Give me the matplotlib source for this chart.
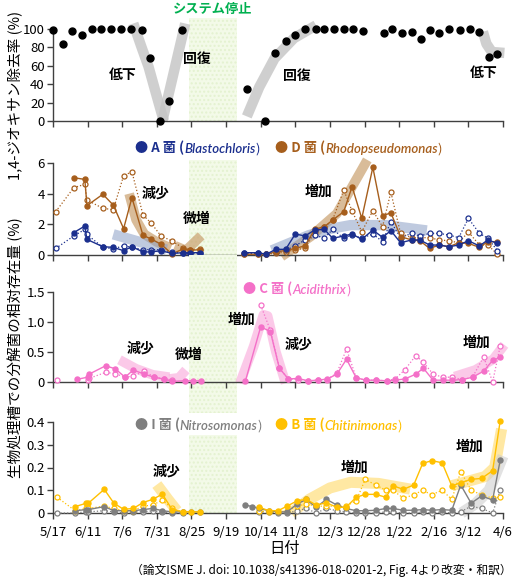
import numpy as np
import matplotlib
matplotlib.use("Agg")
import matplotlib.pyplot as plt

plt.rcParams['font.family'] = ['Noto Sans CJK JP', 'DejaVu Sans']

nan = np.nan

# x軸: 5/17からの経過日数
tick_days = [0, 25, 50, 75, 100, 125, 150, 175, 200, 225, 250, 275, 300, 325]
tick_labels = ['5/17', '6/11', '7/6', '7/31', '8/25', '9/19', '10/14', '11/8',
               '12/3', '12/28', '1/22', '2/16', '3/12', '4/6']
stop_start, stop_end = 98, 133

# パネル1: 1,4-ジオキサン除去率
p1_days = [0, 7, 14, 21, 28, 35, 42, 49, 56, 64, 70, 77, 84, 93,
           140, 153, 160, 168, 175, 182, 190, 196, 203, 210, 217, 224,
           239, 245, 252, 259, 266, 272, 279, 286, 294, 301, 308, 315, 321]
p1_removal = [99, 84, 98, 94, 100, 100, 100, 100, 100, 99, 69, 0, 22, 99,
              35, 0, 74, 87, 94, 100, 100, 100, 100, 100, 100, 98,
              96, 100, 96, 97, 89, 99, 96, 100, 99, 100, 97, 70, 73]

# パネル2: A菌, D菌
p2_days = [2, 15, 23, 24.5, 36, 43.5, 51, 57, 65, 71, 78, 86, 94, 99, 106,
           138, 148, 154, 161, 168, 175, 182, 189, 196, 202, 210, 216, 223,
           231, 238, 244, 251, 259, 265, 272, 279, 286, 293, 300, 308, 314, 321]
a_filled = [nan, 1.46, 1.89, 1.02, 0.54, 0.5, 0.28, 0.54, 0.2, 0.2, 0.28, 0.1, 0.15, 0.15, 0.15,
            0.15, 0.15, 0.05, 0.37, 0.37, 1.37, 1.24, 1.63, 1.67, 1.09, 1.24, 1.37, 1.02,
            1.63, 1.15, 1.59, 0.8, 0.98, 0.98, 0.65, 0.65, 0.54, 0.65, 0.93, 0.59, 0.98, 0.76]
a_open = [0.43, 1.24, 1.67, 1.34, 0.5, 0.4, 0.6, 0.5, 0.35, 0.35, 0.35, 0.2, 0.1, 0.1, 0.1,
          0.1, 0.1, 0.05, 0.2, 0.3, 0.6, 0.98, 1.3, 1.1, 1.67, 1.1, 1.3, 1.1,
          1.37, 0.87, 2.17, 1.13, 1.41, 1.24, 1.41, 1.41, 1.3, 1.13, 2.39, 1.41, 1.1, 0.28]
d_filled = [nan, 5.04, 4.93, 3.22, 3.96, 3.26, 1.72, 3.74, 1.28, 1.04, 0.7, 0.07, 0.4, 0.3, 0.35,
            0.05, 0.05, 0.05, 0.2, 0.3, 0.43, 0.6, 1.67, 1.85, 2.28, 2.83, 4.46, 2.39,
            5.72, 2.54, 2.76, 1.2, 0.98, 0.93, 0.43, 0.65, 0.54, 0.8, 0.76, 0.5, 0.87, 0.87]
d_open = [2.83, 4.39, 4.61, 3.59, 3.04, 2.96, 5.17, 5.43, 2.61, 2.07, 1.24, 0.91, 0.45, 0.35, 0.4,
          0.05, 0.05, 0.05, 0.1, 0.2, 0.35, 0.43, 1.5, 1.8, 2.3, 4.24, 2.87, 1.52,
          2.89, 1.85, 4.1, 1.41, 1.13, 1.13, 1.13, 0.98, 0.93, 0.8, 1.5, 0.65, 0.65, 0.05]

# パネル3: C菌
p3_days = [3, 17.5, 25, 26, 38, 45, 52, 58, 66, 73, 80, 86, 95, 101, 107,
           139, 150, 157, 163.5, 170, 177, 184, 191.5, 198, 205, 212, 219, 226,
           233.5, 241, 247, 254, 262, 267.5, 274.5, 281.5, 288.5, 295.5, 303, 311, 317.5, 323]
c_filled = [nan, 0.045, 0.08, 0.13, 0.27, 0.22, 0.08, 0.2, 0.13, 0.08, 0.05, 0.01, 0.02, 0.02, 0.02,
            0.02, 0.92, 0.84, 0.23, 0.05, 0.06, 0.02, 0.03, 0.05, 0.13, 0.38, 0.07, 0.03,
            0.03, 0.02, 0.03, 0.05, 0.13, 0.23, 0.03, 0.03, 0.03, 0.04, 0.08, 0.18, 0.36, 0.41]
c_open = [0.03, nan, 0.04, 0.06, 0.16, 0.14, 0.08, 0.1, 0.18, 0.08, 0.05, 0.04, nan, nan, nan,
          nan, 1.28, 0.86, 0.23, 0.05, 0.04, 0.02, 0.03, 0.04, 0.15, 0.55, 0.07, 0.03,
          0.03, 0.02, 0.05, 0.2, 0.44, 0.33, 0.13, 0.08, 0.08, 0.04, 0.08, 0.42, 0.0, 0.6]

# パネル4: I菌, B菌
p4_days = [3, 16, 24, 25.5, 37, 44, 51, 58, 65, 72, 79, 86, 94, 100, 106,
           139, 144, 149, 156, 162.5, 169, 176.5, 183, 190, 197.5, 205, 211.5, 219, 225.5,
           233, 240.5, 245.5, 253, 260.5, 267, 273.5, 281, 288, 294.5, 302, 309.5, 317.5, 323]
b_filled = [nan, 0.028, 0.043, 0.043, 0.104, 0.043, 0.016, 0.02, 0.046, 0.06, 0.083, 0.015, 0.005, 0.005, 0.005,
            nan, nan, 0.025, 0.01, 0.01, 0.03, 0.054, 0.06, 0.035, 0.045, 0.025, 0.025, 0.069, 0.082,
            0.082, 0.069, 0.12, 0.104, 0.123, 0.218, 0.23, 0.221, 0.119, 0.133, 0.148, 0.152, 0.186, 0.406]
b_open = [0.069, 0.01, 0.02, 0.02, 0.03, 0.02, 0.01, 0.01, 0.03, 0.035, 0.057, 0.02, 0.005, nan, nan,
          nan, nan, 0.01, 0.005, 0.005, 0.01, 0.03, 0.04, 0.03, 0.03, 0.03, 0.03, 0.054, 0.148,
          0.123, 0.1, 0.1, 0.065, 0.08, 0.1, 0.08, 0.1, 0.06, 0.182, 0.1, 0.08, 0.065, 0.07]
i_filled = [nan, 0.01, 0.015, 0.015, 0.028, 0.01, 0.01, 0.01, 0.015, 0.02, 0.01, 0.005, 0.005, 0.005, 0.005,
            0.035, 0.028, 0.02, 0.01, 0.005, 0.005, 0.04, 0.06, 0.025, 0.06, 0.035, 0.02, 0.01, 0.01,
            0.012, 0.02, 0.02, 0.012, 0.012, 0.015, 0.012, 0.015, 0.012, 0.123, 0.043, 0.075, 0.057, 0.233]
i_open = [0.0, 0.0, 0.005, 0.005, 0.01, 0.005, 0.0, 0.005, 0.005, 0.01, 0.005, 0.0, 0.0, nan, nan,
          nan, nan, 0.005, 0.005, 0.0, 0.0, 0.01, 0.02, 0.0, 0.02, 0.01, 0.005, 0.0, 0.0,
          0.0, 0.005, 0.005, 0.0, 0.0, 0.005, 0.0, 0.005, 0.0, 0.005, 0.03, 0.02, 0.0, 0.1]

# 傾向を示す太い帯（手描き風の注釈）
p1_bands = [([58, 64, 69, 74, 80], [106, 80, 59, 32, 0]),
            ([79, 95.5], [0, 106]),
            ([140, 149, 160, 174, 190], [5, 37, 68, 90, 104]),
            ([310.5, 313, 317, 326], [97, 84, 75, 74])]
p2_brown_bands = [([55, 60, 66, 75, 85], [4.0, 2.3, 1.35, 0.85, 0.45]),
                  ([88, 96, 107], [0.6, 0.3, 1.25]),
                  ([165, 186, 205, 227], [-0.1, 1.2, 2.7, 6.2])]
p2_blue_bands = [([43.5, 82], [1.35, 0.35]),
                 ([158, 170, 185, 200, 215, 240, 270], [0.3, 0.75, 1.3, 1.7, 1.95, 1.95, 1.6])]
p3_bands = [([48, 60, 72, 84], [0.37, 0.22, 0.12, 0.08]),
            ([84, 91, 96], [0.05, 0.07, 0.2]),
            ([135, 145, 152, 155, 161, 168], [-0.02, 0.6, 1.12, 1.1, 0.5, -0.02]),
            ([290, 305, 318, 326], [0.09, 0.2, 0.38, 0.62])]
p4_gold_bands = [([75, 83, 89.5], [0.125, 0.06, 0.01]),
                 ([172, 185, 200, 215, 235, 258], [0.0, 0.06, 0.11, 0.135, 0.13, 0.105]),
                 ([288, 300, 312, 319, 324], [0.12, 0.14, 0.16, 0.2, 0.37])]
p4_gray_bands = [([295, 305, 315, 325], [0.0, 0.04, 0.1, 0.25])]

BLUE = '#1B2F8E'
BROWN = '#A65E1C'
PINK = '#F470C8'
GOLD = '#FFC000'
GRAY = '#7F7F7F'
GREEN_BG = '#F3FAE8'

W, H = 515, 580
fig = plt.figure(figsize=(W / 100, H / 100), dpi=100)


def px_axes(top, bottom):
    return fig.add_axes([53 / W, 1 - bottom / H, 450 / W, (bottom - top) / H])


def style_axes(ax, ylim, yticks, yticklabels, show_x):
    ax.set_xlim(0, 325)
    ax.set_ylim(*ylim)
    ax.set_yticks(yticks)
    ax.set_yticklabels(yticklabels)
    ax.set_xticks(tick_days)
    if show_x:
        ax.set_xticklabels(tick_labels)
    else:
        ax.set_xticklabels([])
    for s in ['top', 'right']:
        ax.spines[s].set_visible(False)
    for s in ['left', 'bottom']:
        ax.spines[s].set_color('#404040')
        ax.spines[s].set_linewidth(1.0)
    ax.tick_params(direction='out', length=4, width=1, color='#404040', labelsize=9.5)
    ax.tick_params(axis='y', pad=2)
    ax.tick_params(axis='x', pad=5)
    ax.patch.set_alpha(0)


def draw_series(ax, days, vals, color, filled, zorder=3):
    d = np.asarray(days, float)
    v = np.asarray(vals, float)
    ok = ~np.isnan(v)
    d, v = d[ok], v[ok]
    cuts = np.where(np.diff(d) > 20)[0] + 1
    for sd, sv in zip(np.split(d, cuts), np.split(v, cuts)):
        if filled:
            ax.plot(sd, sv, '-', color=color, lw=1.0, marker='o', ms=3.6,
                    mfc=color, mec=color, clip_on=False, zorder=zorder + 1)
        else:
            ax.plot(sd, sv, ':', color=color, lw=0.9, marker='o', ms=3.6,
                    mfc='white', mec=color, mew=0.9, clip_on=False, zorder=zorder)


def draw_bands(ax, bands, color, width, alpha):
    for bd, bv in bands:
        ax.plot(bd, bv, color=color, lw=width, alpha=alpha, solid_capstyle='butt',
                solid_joinstyle='round', clip_on=False, zorder=1)


def labels(ax, items):
    for txt, x, y in items:
        ax.text(x, y, txt, ha='center', va='center', fontsize=10, fontweight='bold', zorder=6)


def shade(ax, ymin, ymax):
    ax.axvspan(stop_start, stop_end, ymin=ymin, ymax=ymax, facecolor=GREEN_BG,
               edgecolor='#E4F2D0', hatch='....', linewidth=0, clip_on=False, zorder=0)


def legend_entry(ax, x_px, y_px, label, genus, color):
    t1 = ax.annotate('● ' + label + ' (', xy=(x_px, H - y_px), xycoords='figure pixels',
                     ha='left', va='center', fontsize=9.5, color=color, fontweight='bold',
                     annotation_clip=False)
    t2 = ax.annotate(genus, xy=(1, 0), xycoords=t1, ha='left', va='bottom', fontsize=9.5,
                     color=color, fontstyle='italic', family='Lato', fontweight='semibold',
                     annotation_clip=False)
    ax.annotate(')', xy=(1, 0), xycoords=t2, ha='left', va='bottom', fontsize=9.5,
                color=color, annotation_clip=False)


# パネル1
ax1 = px_axes(29, 121)
style_axes(ax1, (0, 100), [0, 20, 40, 60, 80, 100], ['0', '20', '40', '60', '80', '100'], False)
shade(ax1, 0, (121 - 18) / 92)
draw_bands(ax1, p1_bands, '#C4C4C4', 7.5, 0.8)
ax1.plot(p1_days, p1_removal, 'o', color='black', ms=5, clip_on=False, zorder=4)
labels(ax1, [('低下', 50, 50), ('回復', 104, 67), ('回復', 176, 49), ('低下', 311, 52)])
ax1.text((stop_start + stop_end) / 2, 122, 'システム停止', ha='center', va='center',
         fontsize=9.5, fontweight='bold', color='#00B050', clip_on=False)

# パネル2
ax2 = px_axes(163, 255)
style_axes(ax2, (0, 6), [0, 2, 4, 6], ['0', '2', '4', '6'], False)
shade(ax2, 0, (255 - 160) / 92)
draw_bands(ax2, p2_brown_bands, '#C9A06E', 7, 0.7)
draw_bands(ax2, p2_blue_bands, '#8C9FC6', 7.5, 0.55)
draw_series(ax2, p2_days, d_open, BROWN, False)
draw_series(ax2, p2_days, a_open, BLUE, False)
draw_series(ax2, p2_days, d_filled, BROWN, True)
draw_series(ax2, p2_days, a_filled, BLUE, True)
labels(ax2, [('減少', 74, 4.0), ('微増', 104, 2.33), ('増加', 192, 4.13)])
legend_entry(ax2, 135, 148, 'A 菌', 'Blastochloris', BLUE)
legend_entry(ax2, 275, 148, 'D 菌', 'Rhodopseudomonas', BROWN)

# パネル3
ax3 = px_axes(292, 382)
style_axes(ax3, (0, 1.5), [0, 0.5, 1.0, 1.5], ['0', '0.5', '1.0', '1.5'], False)
shade(ax3, (382 - 413) / 90, (382 - 255) / 90)
draw_bands(ax3, p3_bands, '#F9A6DA', 7, 0.6)
draw_series(ax3, p3_days, c_open, PINK, False)
draw_series(ax3, p3_days, c_filled, PINK, True)
labels(ax3, [('減少', 63, 0.56), ('微増', 98, 0.45), ('増加', 136, 1.03),
             ('減少', 177, 0.62), ('増加', 306, 0.65)])
legend_entry(ax3, 243, 289, 'C 菌', 'Acidithrix', PINK)

# パネル4
ax4 = px_axes(422, 513)
style_axes(ax4, (0, 0.4), [0, 0.1, 0.2, 0.3, 0.4], ['0', '0.1', '0.2', '0.3', '0.4'], True)
shade(ax4, 0, (513 - 435) / 91)
draw_bands(ax4, p4_gold_bands, '#FFD966', 8, 0.6)
draw_bands(ax4, p4_gray_bands, '#CFCFCF', 8, 0.6)
draw_series(ax4, p4_days, i_open, GRAY, False)
draw_series(ax4, p4_days, b_open, GOLD, False)
draw_series(ax4, p4_days, i_filled, GRAY, True)
draw_series(ax4, p4_days, b_filled, GOLD, True)
labels(ax4, [('減少', 82, 0.18), ('増加', 218, 0.2), ('増加', 301, 0.29)])
legend_entry(ax4, 135, 425, 'I 菌', 'Nitrosomonas', GRAY)
legend_entry(ax4, 275, 425, 'B 菌', 'Chitinimonas', GOLD)

# 軸ラベル・出典
fig.text(15 / W, 1 - 95 / H, '1,4-ジオキサン除去率 (%)', rotation=90,
         ha='center', va='center', fontsize=10.5)
fig.text(15 / W, 1 - 348 / H, '生物処理槽での分解菌の相対存在量 (%)', rotation=90,
         ha='center', va='center', fontsize=10.5)
fig.text(285 / W, 1 - 549 / H, '日付', ha='center', va='center', fontsize=11)
fig.text(512 / W, 1 - 570 / H, '（論文ISME J. doi: 10.1038/s41396-018-0201-2, Fig. 4より改変・和訳）',
         ha='right', va='center', fontsize=8.5)

fig.savefig('out.png', dpi=100)
